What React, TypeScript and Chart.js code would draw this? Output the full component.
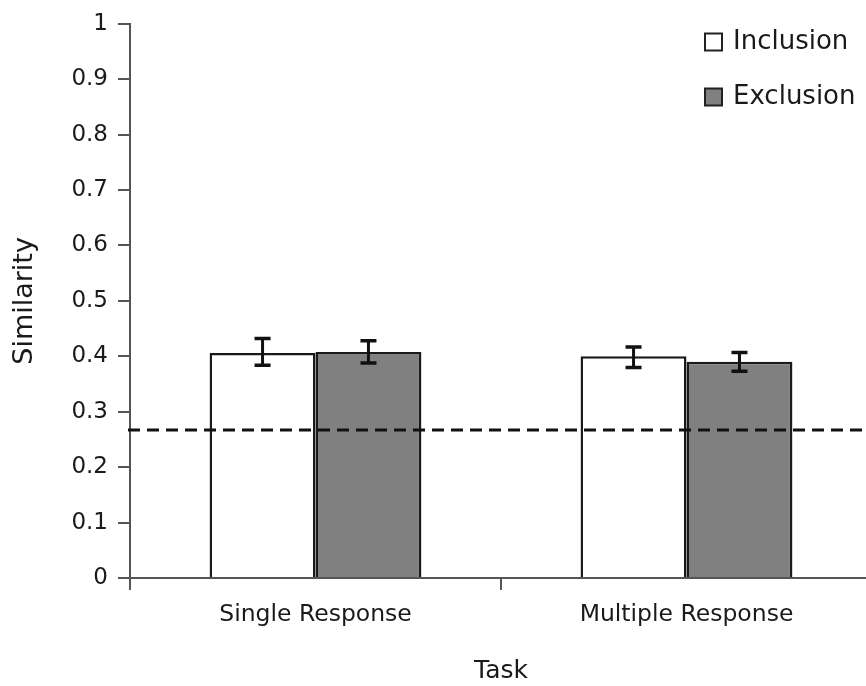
import React, { useEffect, useRef } from 'react';
import { Chart, registerables } from 'chart.js';

Chart.register(...registerables);

const categories = ['Single Response', 'Multiple Response'];
const seriesLabels = ['Inclusion', 'Exclusion'];
const inclusionValues = [0.406, 0.4];
const exclusionValues = [0.408, 0.39];
const inclusionErrLow = [0.384, 0.38];
const inclusionErrHigh = [0.432, 0.417];
const exclusionErrLow = [0.388, 0.373];
const exclusionErrHigh = [0.428, 0.407];
const chanceLevel = 0.267;
const yMin = 0;
const yMax = 1;
const yStep = 0.1;

const FONT = "'DejaVu Sans', sans-serif";
const errLows = [inclusionErrLow, exclusionErrLow];
const errHighs = [inclusionErrHigh, exclusionErrHigh];

const errorBarPlugin = {
  id: 'errorBars',
  afterDatasetsDraw(chart: any) {
    const ctx = chart.ctx;
    const yScale = chart.scales.y;
    ctx.save();
    ctx.strokeStyle = '#111';
    chart.data.datasets.forEach((_ds: any, i: number) => {
      const meta = chart.getDatasetMeta(i);
      meta.data.forEach((bar: any, j: number) => {
        const x = bar.x;
        const yl = yScale.getPixelForValue(errLows[i][j]);
        const yh = yScale.getPixelForValue(errHighs[i][j]);
        const cap = 8;
        ctx.lineWidth = 3;
        ctx.beginPath();
        ctx.moveTo(x, yl);
        ctx.lineTo(x, yh);
        ctx.stroke();
        ctx.lineWidth = 3.5;
        ctx.beginPath();
        ctx.moveTo(x - cap, yl);
        ctx.lineTo(x + cap, yl);
        ctx.moveTo(x - cap, yh);
        ctx.lineTo(x + cap, yh);
        ctx.stroke();
      });
    });
    ctx.restore();
  },
};

const chanceLinePlugin = {
  id: 'chanceLine',
  afterDatasetsDraw(chart: any) {
    const ctx = chart.ctx;
    const y = chart.scales.y.getPixelForValue(chanceLevel);
    const { left, right } = chart.chartArea;
    ctx.save();
    ctx.strokeStyle = '#111';
    ctx.lineWidth = 3;
    ctx.setLineDash([12, 7]);
    ctx.beginPath();
    ctx.moveTo(left - 2, y);
    ctx.lineTo(right, y);
    ctx.stroke();
    ctx.restore();
  },
};

const legendPlugin = {
  id: 'customLegend',
  afterDraw(chart: any) {
    const ctx = chart.ctx;
    ctx.save();
    const boxX = 705;
    const size = 17;
    const centers = [42, 97];
    chart.data.datasets.forEach((ds: any, i: number) => {
      const cy = centers[i];
      ctx.fillStyle = ds.backgroundColor;
      ctx.fillRect(boxX, cy - size / 2, size, size);
      ctx.strokeStyle = '#222';
      ctx.lineWidth = 2;
      ctx.strokeRect(boxX, cy - size / 2, size, size);
      ctx.fillStyle = '#1a1a1a';
      ctx.font = `26px ${FONT}`;
      ctx.textBaseline = 'middle';
      ctx.textAlign = 'left';
      ctx.fillText(ds.label, 733, cy);
    });
    ctx.restore();
  },
};

export default function App() {
  const canvasRef = useRef<HTMLCanvasElement>(null);

  useEffect(() => {
    if (!canvasRef.current) return;
    const chart = new Chart(canvasRef.current, {
      type: 'bar',
      data: {
        labels: categories,
        datasets: [
          {
            label: seriesLabels[0],
            data: inclusionValues,
            backgroundColor: '#ffffff',
            borderColor: '#1a1a1a',
            borderWidth: 2.5,
            categoryPercentage: 0.571,
            barPercentage: 1,
          },
          {
            label: seriesLabels[1],
            data: exclusionValues,
            backgroundColor: '#808080',
            borderColor: '#1a1a1a',
            borderWidth: 2.5,
            categoryPercentage: 0.571,
            barPercentage: 1,
          },
        ],
      },
      options: {
        responsive: false,
        animation: false,
        layout: { padding: { top: 19, right: 8, bottom: 0, left: 0 } },
        plugins: {
          legend: { display: false },
          tooltip: { enabled: false },
        },
        scales: {
          x: {
            grid: {
              offset: true,
              drawOnChartArea: false,
              drawTicks: true,
              tickLength: 12,
              color: '#555',
              lineWidth: 2,
            },
            border: { display: true, color: '#555', width: 2 },
            ticks: { font: { family: FONT, size: 23.5 }, color: '#1a1a1a', padding: 11 },
            title: {
              display: true,
              text: 'Task',
              font: { family: FONT, size: 25 },
              color: '#1a1a1a',
              padding: { top: 0, bottom: 0 },
            },
            afterFit: (s: any) => {
              s.height = 108;
            },
          },
          y: {
            min: yMin,
            max: yMax,
            ticks: {
              stepSize: yStep,
              font: { family: FONT, size: 23 },
              color: '#1a1a1a',
              padding: 10,
              callback: (v: any) => String(Number(Number(v).toFixed(1))),
            },
            grid: {
              drawOnChartArea: false,
              drawTicks: true,
              tickLength: 12,
              color: '#555',
              lineWidth: 2,
            },
            border: { display: true, color: '#555', width: 2 },
            title: {
              display: true,
              text: 'Similarity',
              font: { family: FONT, size: 27 },
              color: '#1a1a1a',
              padding: { top: 9, bottom: 0 },
            },
            afterFit: (s: any) => {
              s.width = 130;
            },
          },
        },
      },
      plugins: [chanceLinePlugin, errorBarPlugin, legendPlugin],
    } as any);
    return () => chart.destroy();
  }, []);

  return (
    <div
      style={{
        position: 'absolute',
        left: 0,
        top: 0,
        width: 866,
        height: 686,
        overflow: 'hidden',
        background: '#fff',
      }}
    >
      <canvas ref={canvasRef} width={880} height={686} style={{ display: 'block' }} />
    </div>
  );
}
